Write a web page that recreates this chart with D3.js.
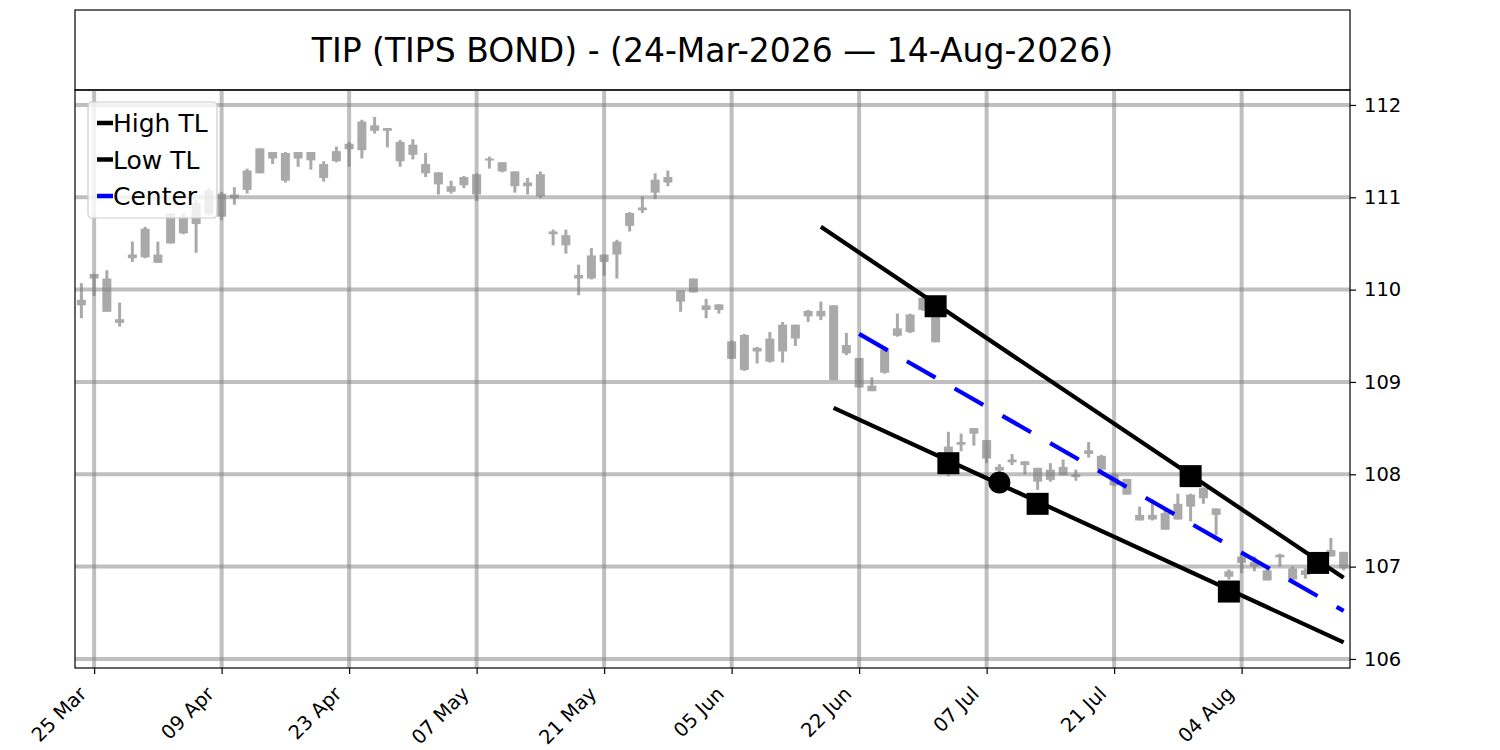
<!DOCTYPE html>
<html>
<head>
<meta charset="utf-8">
<script src="https://cdn.jsdelivr.net/npm/d3@7"></script>
<style>
  body { margin: 0; background: #fff; }
  text { font-family: "DejaVu Sans", sans-serif; }
</style>
</head>
<body>
<div id="chart"></div>
<script>
// daily bars, 24-Mar-2026 .. 14-Aug-2026 (trading days, index = position)
var highs = [110.07,110.17,110.21,109.86,110.52,110.68,110.52,110.83,110.83,110.97,
  111.10,111.06,111.11,111.31,111.53,111.49,111.49,111.49,111.49,111.39,
  111.55,111.60,111.84,111.87,111.75,111.62,111.63,111.48,111.27,111.18,
  111.23,111.26,111.44,111.38,111.28,111.21,111.28,110.65,110.65,110.27,
  110.45,110.38,110.54,110.84,111.01,111.26,111.29,109.99,110.12,109.90,
  109.84,109.45,109.52,109.38,109.54,109.65,109.62,109.78,109.87,109.83,
  109.53,109.26,109.05,109.35,109.74,109.74,109.92,109.92,108.46,108.44,
  108.50,108.37,108.11,108.22,108.14,108.07,108.12,108.16,108.05,108.35,
  108.21,108.01,107.95,107.65,107.73,107.63,107.79,107.79,107.86,107.63,
  106.97,107.13,107.11,106.99,107.14,107.00,106.98,107.10,107.31,107.16];
var lows = [109.69,109.93,109.76,109.60,110.30,110.34,110.29,110.50,110.60,110.40,
  110.80,110.75,110.92,111.04,111.26,111.36,111.16,111.33,111.30,111.17,
  111.38,111.33,111.42,111.69,111.54,111.33,111.41,111.22,111.03,111.04,
  111.10,110.96,111.31,111.27,111.05,111.03,110.99,110.48,110.39,109.94,
  110.11,110.15,110.12,110.63,110.83,110.98,111.12,109.76,109.97,109.69,
  109.74,109.25,109.12,109.20,109.21,109.21,109.39,109.65,109.67,109.02,
  109.29,108.94,108.90,109.09,109.49,109.53,109.77,109.43,107.98,108.25,
  108.31,108.12,108.03,108.10,108.00,107.83,107.92,107.99,107.93,108.18,
  108.04,107.87,107.78,107.50,107.50,107.40,107.51,107.49,107.68,107.34,
  106.86,106.93,106.95,106.85,107.00,106.82,106.87,106.95,107.11,106.96];
var opens = [109.83,110.17,110.12,109.68,110.34,110.35,110.38,110.50,110.61,110.71,
  110.82,110.79,111.03,111.08,111.26,111.49,111.48,111.49,111.49,111.36,
  111.39,111.52,111.51,111.72,111.75,111.60,111.57,111.36,111.27,111.12,
  111.13,111.25,111.42,111.38,111.28,111.16,111.25,110.63,110.59,110.16,
  110.12,110.38,110.38,110.69,110.86,111.05,111.16,109.99,110.12,109.83,
  109.84,109.44,109.51,109.37,109.47,109.33,109.62,109.77,109.77,109.83,
  109.40,109.26,108.96,109.10,109.50,109.54,109.78,109.90,108.30,108.35,
  108.50,108.37,108.08,108.16,108.14,108.07,108.05,108.08,108.00,108.22,
  108.20,108.00,107.95,107.56,107.51,107.58,107.51,107.78,107.74,107.63,
  106.95,107.04,107.05,106.96,107.13,106.98,106.96,107.06,107.11,106.98];
var closes = [109.89,110.12,109.76,109.64,110.38,110.66,110.29,110.83,110.79,110.94,
  111.07,111.04,110.99,111.29,111.53,111.42,111.18,111.42,111.40,111.21,
  111.50,111.58,111.82,111.78,111.72,111.39,111.46,111.26,111.14,111.06,
  111.22,111.03,111.40,111.28,111.12,111.12,111.01,110.60,110.48,110.12,
  110.37,110.30,110.52,110.83,110.89,111.19,111.22,109.87,109.97,109.78,
  109.78,109.25,109.13,109.33,109.22,109.62,109.47,109.71,109.71,109.02,
  109.31,108.94,108.90,109.35,109.58,109.73,109.91,109.43,108.05,108.32,
  108.44,108.17,108.04,108.13,108.10,107.92,107.94,107.99,107.97,108.26,
  108.05,107.88,107.78,107.50,107.56,107.40,107.68,107.65,107.85,107.56,
  106.89,107.11,107.00,106.85,107.10,106.86,106.91,106.98,107.18,107.16];

var tickIdx = [1, 11, 21, 31, 41, 51, 61, 71, 81, 91];
var tickLabels = ["25 Mar", "09 Apr", "23 Apr", "07 May", "21 May",
  "05 Jun", "22 Jun", "07 Jul", "21 Jul", "04 Aug"];
var yTicks = [106, 107, 108, 109, 110, 111, 112];

// trend lines [startIdx, startVal, endIdx, endVal]
var highTL = [58, 110.68, 99, 106.88];
var lowTL = [59, 108.72, 99, 106.18];
var centerTL = [61, 109.52, 99, 106.52];
// pivots
var highPivIdx = [67, 87, 97];
var highPivVal = [109.82, 107.98, 107.04];
var lowPivIdx = [68, 75, 90];
var lowPivVal = [108.12, 107.68, 106.73];
var touchIdx = [72];
var touchVal = [107.91];

var legendNames = ["High TL", "Low TL", "Center"];
var legendColors = ["black", "black", "blue"];

var W = 1500, H = 750;
var pLeft = 75, pRight = 1350, pTop = 90, pBottom = 668;

var svg = d3.select("#chart").append("svg")
  .attr("width", W).attr("height", H);

var x = d3.scaleLinear().domain([-0.5, 99.5]).range([pLeft, pRight]);
var y = d3.scaleLinear().domain([105.902, 112.162]).range([pBottom, pTop]);

// title box
svg.append("rect").attr("x", pLeft).attr("y", 10)
  .attr("width", pRight - pLeft).attr("height", 80)
  .attr("fill", "none").attr("stroke", "black").attr("stroke-width", 1.2);
svg.append("text").attr("x", (pLeft + pRight) / 2).attr("y", 62)
  .attr("text-anchor", "middle").attr("font-size", 33)
  .text("TIP (TIPS BOND) - (24-Mar-2026 \u2014 14-Aug-2026)");

var plot = svg.append("g");
plot.append("clipPath").attr("id", "clip").append("rect")
  .attr("x", pLeft).attr("y", pTop).attr("width", pRight - pLeft).attr("height", pBottom - pTop);

var bars = d3.range(highs.length);
var candleColor = "#a9a9a9";
var cg = plot.append("g").attr("clip-path", "url(#clip)");
cg.selectAll("line.wick").data(bars).enter().append("line")
  .attr("x1", function (d) { return x(d); })
  .attr("x2", function (d) { return x(d); })
  .attr("y1", function (d) { return y(highs[d]); })
  .attr("y2", function (d) { return y(lows[d]); })
  .attr("stroke", candleColor).attr("stroke-width", 3);
cg.selectAll("rect.body").data(bars).enter().append("rect")
  .attr("x", function (d) { return x(d) - 4.5; })
  .attr("width", 9)
  .attr("y", function (d) { return y(Math.max(opens[d], closes[d])); })
  .attr("height", function (d) {
    return Math.max(2, y(Math.min(opens[d], closes[d])) - y(Math.max(opens[d], closes[d])));
  })
  .attr("fill", candleColor);

// grid
var gg = plot.append("g").attr("clip-path", "url(#clip)")
  .attr("stroke", "#808080").attr("stroke-opacity", 0.5).attr("stroke-width", 4);
gg.selectAll("line.h").data(yTicks).enter().append("line")
  .attr("x1", pLeft).attr("x2", pRight)
  .attr("y1", function (d) { return y(d); }).attr("y2", function (d) { return y(d); });
gg.selectAll("line.v").data(tickIdx).enter().append("line")
  .attr("y1", pTop).attr("y2", pBottom)
  .attr("x1", function (d) { return x(d); }).attr("x2", function (d) { return x(d); });

// trend lines
function tl(a, color, dash) {
  var l = plot.append("line")
    .attr("x1", x(a[0])).attr("y1", y(a[1]))
    .attr("x2", x(a[2])).attr("y2", y(a[3]))
    .attr("stroke", color).attr("stroke-width", 4.2);
  if (dash) l.attr("stroke-dasharray", dash);
}
tl(highTL, "black");
tl(lowTL, "black");
tl(centerTL, "blue", "33,22");

function squares(idx, vals) {
  plot.selectAll(null).data(idx).enter().append("rect")
    .attr("x", function (d) { return x(d) - 11; })
    .attr("y", function (d, i) { return y(vals[i]) - 11; })
    .attr("width", 22).attr("height", 22).attr("fill", "black");
}
squares(highPivIdx, highPivVal);
squares(lowPivIdx, lowPivVal);
plot.selectAll(null).data(touchIdx).enter().append("circle")
  .attr("cx", function (d) { return x(d); })
  .attr("cy", function (d, i) { return y(touchVal[i]); })
  .attr("r", 11).attr("fill", "black");

// frame
svg.append("rect").attr("x", pLeft).attr("y", pTop)
  .attr("width", pRight - pLeft).attr("height", pBottom - pTop)
  .attr("fill", "none").attr("stroke", "black").attr("stroke-width", 1.2);

// right y axis
var yAxis = d3.axisRight(y).tickValues(yTicks).tickSize(6).tickPadding(8)
  .tickFormat(d3.format("d"));
var ya = svg.append("g").attr("transform", "translate(" + pRight + ",0)").call(yAxis);
ya.select(".domain").remove();
ya.selectAll("text").attr("font-size", 19.5).attr("font-family", "DejaVu Sans");
ya.selectAll("line").attr("stroke", "black").attr("stroke-width", 1.2);

// bottom x axis
var xAxis = d3.axisBottom(x).tickValues(tickIdx).tickSize(6)
  .tickFormat(function (d, i) { return tickLabels[i]; });
var xa = svg.append("g").attr("transform", "translate(0," + pBottom + ")").call(xAxis);
xa.select(".domain").remove();
xa.selectAll("line").attr("stroke", "black").attr("stroke-width", 1.2);
xa.selectAll("text")
  .attr("font-size", 19.5).attr("font-family", "DejaVu Sans")
  .attr("text-anchor", "end").attr("dy", null).attr("y", null)
  .attr("transform", "translate(-7,27) rotate(-45)");

// legend
var lg = svg.append("g");
lg.append("rect").attr("x", 88).attr("y", 102).attr("width", 129).attr("height", 116)
  .attr("rx", 4).attr("fill", "white").attr("fill-opacity", 0.8)
  .attr("stroke", "#cccccc").attr("stroke-width", 1.2);
lg.selectAll("line").data(legendNames).enter().append("line")
  .attr("x1", 97).attr("x2", 113)
  .attr("y1", function (d, i) { return 123 + i * 36.5; })
  .attr("y2", function (d, i) { return 123 + i * 36.5; })
  .attr("stroke", function (d, i) { return legendColors[i]; })
  .attr("stroke-width", 4.5);
lg.selectAll("text").data(legendNames).enter().append("text")
  .attr("x", 113).attr("y", function (d, i) { return 132 + i * 36.5; })
  .attr("font-size", 25).text(function (d) { return d; });
</script>
</body>
</html>
